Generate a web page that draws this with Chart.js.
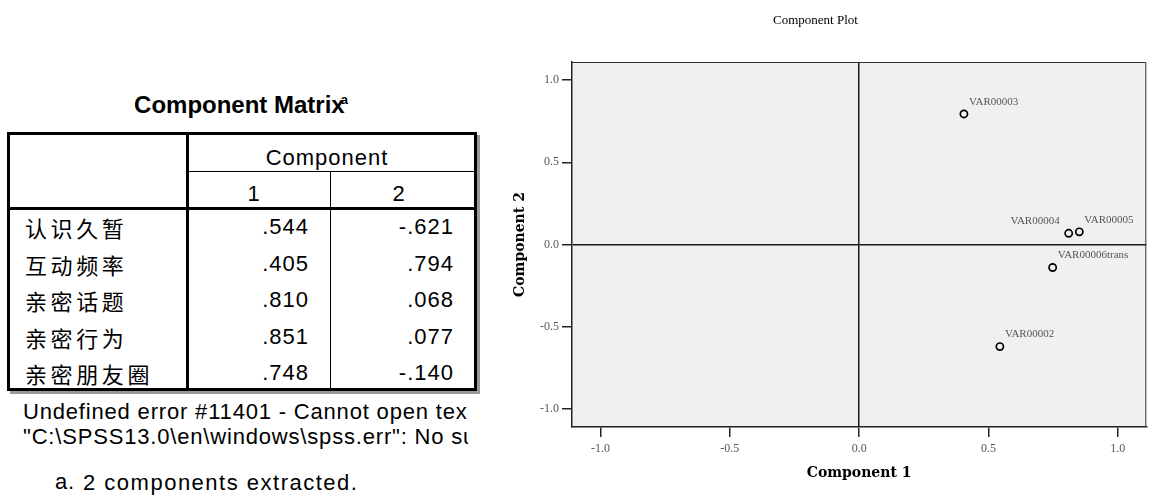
<!DOCTYPE html>
<html>
<head>
<meta charset="utf-8">
<script src="https://cdn.jsdelivr.net/npm/chart.js@4/dist/chart.umd.min.js"></script>
<style>
  html, body { margin: 0; padding: 0; background: #fff; }
  #left { position: absolute; left: 0; top: 0; width: 480px; height: 496px; font-family: "Liberation Sans", Arial, sans-serif; color: #000; }
  #left div { position: absolute; white-space: nowrap; }
  .ln { background: #000; }
  .t { font-size: 22px; letter-spacing: 1px; }
  .fn { font-size: 22px; letter-spacing: 0.82px; }
  .cjk { font-family: "Noto Sans CJK SC", sans-serif; font-size: 22px; letter-spacing: 3.6px; }
  #c { position: absolute; left: 480px; top: 0; }
</style>
</head>
<body>
<div id="left"></div>
<canvas id="c" width="672" height="496"></canvas>
<script>
// ---- data ----
const tableTitle = 'Component Matrix';
const headerLabel = 'Component';
const componentNumbers = ['1', '2'];
const rowLabels = ['认识久暂', '互动频率', '亲密话题', '亲密行为', '亲密朋友圈'];
const component1 = [0.544, 0.405, 0.810, 0.851, 0.748];
const component2 = [-0.621, 0.794, 0.068, 0.077, -0.140];
const varNames = ['VAR00002', 'VAR00003', 'VAR00004', 'VAR00005', 'VAR00006trans'];
const axisTicks = [-1.0, -0.5, 0.0, 0.5, 1.0];
const errorLines = ['Undefined error #11401 - Cannot open text file', '"C:\\SPSS13.0\\en\\windows\\spss.err": No such file or directory'];
const footnoteMark = 'a.';
const footnoteText = '2 components extracted.';
const plotTitle = 'Component Plot';
const xTitle = 'Component 1';
const yTitle = 'Component 2';

// ---- left table (HTML) ----
const left = document.getElementById('left');
function el(cls, css, text) {
  const d = document.createElement('div');
  if (cls) d.className = cls;
  Object.assign(d.style, css);
  if (text !== undefined) d.textContent = text;
  left.appendChild(d);
  return d;
}
function fmt(v) {
  const s = Math.abs(v).toFixed(3).replace(/^0/, '');
  return (v < 0 ? '-' : '') + s;
}
// title
const title = el('', { left: '0px', width: '482px', top: '85px', height: '30px', lineHeight: '30px', textAlign: 'center', fontWeight: 'bold', fontSize: '24px' });
title.appendChild(document.createTextNode(tableTitle));
const sup = document.createElement('span');
sup.textContent = 'a';
Object.assign(sup.style, { fontSize: '13px', fontWeight: 'bold', verticalAlign: '9px', marginLeft: '-4px' });
title.appendChild(sup);

// frame lines
const L = 7, R = 477, T = 132, B = 391, C0 = 186, C1 = 330;
el('', { left: (L + 3) + 'px', top: (T + 3) + 'px', width: (R - L) + 'px', height: (B - T) + 'px', background: '#9a9a9a' }); // shadow
el('', { left: L + 'px', top: T + 'px', width: (R - L) + 'px', height: (B - T) + 'px', background: '#fff' });
el('ln', { left: L + 'px', top: T + 'px', width: (R - L) + 'px', height: '3px' });
el('ln', { left: L + 'px', top: (B - 3) + 'px', width: (R - L) + 'px', height: '3px' });
el('ln', { left: L + 'px', top: T + 'px', width: '3px', height: (B - T) + 'px' });
el('ln', { left: (R - 3) + 'px', top: T + 'px', width: '3px', height: (B - T) + 'px' });
el('ln', { left: C0 + 'px', top: T + 'px', width: '3px', height: (B - T) + 'px' });
el('ln', { left: C0 + 'px', top: '171px', width: (R - C0) + 'px', height: '1px' });
el('ln', { left: L + 'px', top: '207px', width: (R - L) + 'px', height: '3px' });
el('ln', { left: C1 + 'px', top: '171px', width: '1px', height: (B - 171) + 'px' });

// header texts
el('t', { left: '189px', width: '276px', top: '143px', height: '30px', lineHeight: '30px', textAlign: 'center' }, headerLabel);
el('t', { left: '224px', width: '60px', top: '179px', height: '30px', lineHeight: '30px', textAlign: 'center' }, componentNumbers[0]);
el('t', { left: '369px', width: '60px', top: '179px', height: '30px', lineHeight: '30px', textAlign: 'center' }, componentNumbers[1]);

// rows
rowLabels.forEach((lab, i) => {
  const cy = 227 + i * 36.5;
  el('cjk', { left: '25px', top: (cy - 16) + 'px', height: '32px', lineHeight: '32px' }, lab);
  el('t', { left: '200px', width: '109px', top: (cy - 15) + 'px', height: '30px', lineHeight: '30px', textAlign: 'right' }, fmt(component1[i]));
  el('t', { left: '345px', width: '109px', top: (cy - 15) + 'px', height: '30px', lineHeight: '30px', textAlign: 'right' }, fmt(component2[i]));
});

// footnotes
const clip = el('', { left: '0px', top: '396px', width: '468px', height: '56px', overflow: 'hidden' });
errorLines.forEach((s, i) => {
  const d = document.createElement('div');
  d.className = 'fn';
  Object.assign(d.style, { position: 'absolute', left: '23px', top: (i * 25 + 1) + 'px', height: '30px', lineHeight: '30px', whiteSpace: 'nowrap' });
  d.textContent = s;
  clip.appendChild(d);
});
el('fn', { left: '55px', top: '467px', height: '30px', lineHeight: '30px' }, footnoteMark);
el('fn', { left: '83px', top: '468px', height: '30px', lineHeight: '30px', letterSpacing: '1.5px' }, footnoteText);

// ---- chart ----
const points = component1.map((x, i) => ({ x: x, y: component2[i] }));

const plotBackground = {
  id: 'plotBackground',
  beforeDraw(chart) {
    const { ctx, chartArea: a } = chart;
    ctx.save();
    ctx.fillStyle = '#f0f0f0';
    ctx.fillRect(a.left, a.top, a.right - a.left, a.bottom - a.top);
    ctx.restore();
  },
  afterDraw(chart) {
    const { ctx, chartArea: a } = chart;
    ctx.save();
    ctx.strokeStyle = '#333';
    ctx.lineWidth = 1;
    ctx.beginPath();
    ctx.moveTo(a.left, a.top + 0.5);
    ctx.lineTo(a.right - 0.5, a.top + 0.5);
    ctx.lineTo(a.right - 0.5, a.bottom);
    ctx.stroke();
    ctx.restore();
  }
};

const pointLabels = {
  id: 'pointLabels',
  afterDatasetsDraw(chart, args, opts) {
    const meta = chart.getDatasetMeta(0);
    const ctx = chart.ctx;
    ctx.save();
    ctx.font = '11px "Liberation Serif", serif';
    ctx.fillStyle = '#555';
    ctx.textBaseline = 'middle';
    meta.data.forEach((pt, i) => {
      const onLeft = opts.leftSide.includes(i);
      ctx.textAlign = onLeft ? 'right' : 'left';
      ctx.fillText(varNames[i], pt.x + (onLeft ? -9 : 5), pt.y - 12);
    });
    ctx.restore();
  }
};

const tickFont = { family: '"Liberation Serif", serif', size: 12 };
const axisTitleFont = { family: '"DejaVu Serif", serif', size: 14, weight: 'bold' };
const gridOpts = {
  color: (c) => (c.tick && c.tick.value === 0 ? '#1a1a1a' : 'rgba(0,0,0,0)'),
  lineWidth: 1.5,
  tickColor: '#222',
  tickLength: 10,
  tickWidth: 1.5
};

new Chart(document.getElementById('c'), {
  type: 'scatter',
  data: {
    datasets: [{
      data: points,
      pointStyle: 'circle',
      pointRadius: 3.6,
      pointBorderWidth: 1.7,
      pointBorderColor: '#000',
      pointBackgroundColor: 'rgba(0,0,0,0)'
    }]
  },
  options: {
    responsive: false,
    animation: false,
    devicePixelRatio: 1,
    layout: { padding: { left: 0, right: 1, top: 0, bottom: 0 } },
    plugins: {
      legend: { display: false },
      tooltip: { enabled: false },
      title: {
        display: true,
        text: plotTitle,
        color: '#000',
        font: { family: '"Liberation Serif", serif', size: 13, weight: 'normal' },
        padding: { top: 13, bottom: 33.4 }
      },
      pointLabels: { leftSide: [2] }
    },
    scales: {
      x: {
        type: 'linear',
        min: -1.11,
        max: 1.11,
        afterBuildTicks: (s) => { s.ticks = axisTicks.map(v => ({ value: v })); },
        afterFit: (s) => { s.height = 69; },
        ticks: { callback: (v) => Number(v).toFixed(1), font: tickFont, color: '#555', padding: 5, maxRotation: 0 },
        grid: gridOpts,
        border: { display: true, color: '#222', width: 1.5 },
        title: { display: true, text: xTitle, color: '#000', font: axisTitleFont, padding: { top: 0, bottom: 14.6 } }
      },
      y: {
        type: 'linear',
        min: -1.11,
        max: 1.11,
        afterBuildTicks: (s) => { s.ticks = axisTicks.map(v => ({ value: v })); },
        afterFit: (s) => { s.width = 92; },
        ticks: { callback: (v) => Number(v).toFixed(1), font: tickFont, color: '#555', padding: 3 },
        grid: gridOpts,
        border: { display: true, color: '#222', width: 1.5 },
        title: { display: true, text: yTitle, color: '#000', font: axisTitleFont, padding: { top: 31.6, bottom: 0 } }
      }
    }
  },
  plugins: [plotBackground, pointLabels]
});
</script>
</body>
</html>
